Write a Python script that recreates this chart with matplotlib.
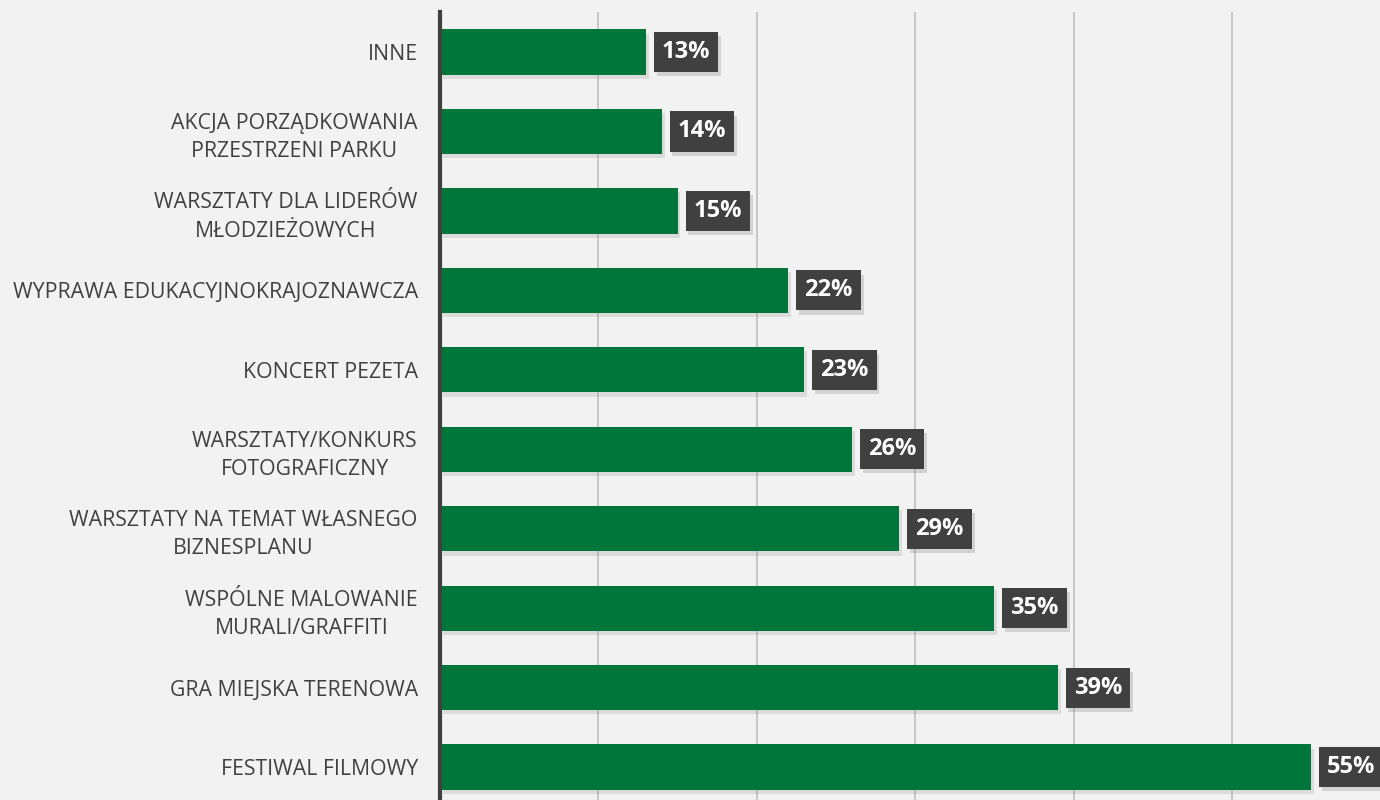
import matplotlib.pyplot as plt
import matplotlib.patheffects as pe

categories = [
    "INNE",
    "AKCJA PORZĄDKOWANIA\nPRZESTRZENI PARKU",
    "WARSZTATY DLA LIDERÓW\nMŁODZIEŻOWYCH",
    "WYPRAWA EDUKACYJNOKRAJOZNAWCZA",
    "KONCERT PEZETA",
    "WARSZTATY/KONKURS\nFOTOGRAFICZNY",
    "WARSZTATY NA TEMAT WŁASNEGO\nBIZNESPLANU",
    "WSPÓLNE MALOWANIE\nMURALI/GRAFFITI",
    "GRA MIEJSKA TERENOWA",
    "FESTIWAL FILMOWY",
]
values = [13, 14, 15, 22, 23, 26, 29, 35, 39, 55]

plt.rcParams['font.family'] = ['Open Sans', 'DejaVu Sans']

bg = '#f2f2f2'
fig = plt.figure(figsize=(13.8, 8), dpi=100, facecolor=bg)
ax = fig.add_axes([440 / 1380, 0, 1 - 440 / 1380, 1 - 12 / 800], facecolor=bg)

pos = list(range(len(categories)))
bars = ax.barh(pos, values, height=0.57, color='#00763a', zorder=3)
for b in bars:
    b.set_path_effects([pe.SimplePatchShadow(offset=(2, -3), shadow_rgbFace='#999999', alpha=0.25),
                        pe.Normal()])

for p, v in zip(pos, values):
    t = ax.annotate(f"{v}%", xy=(v, p), xytext=(11.5, 0), textcoords='offset points',
                    ha='left', va='center', color='white', fontsize=17, fontweight='bold',
                    zorder=5,
                    bbox=dict(boxstyle='square,pad=0.34', fc='#404040', ec='none', lw=0))
    t.get_bbox_patch().set_path_effects([
        pe.SimplePatchShadow(offset=(2, -3), shadow_rgbFace='#888888', alpha=0.3),
        pe.Normal()])

ax.set_xlim(0, 940 / 15.84)
ax.set_ylim(9.415, -0.504)
ax.set_xticks([10, 20, 30, 40, 50])
ax.set_xticklabels([])
ax.tick_params(axis='x', length=0)
ax.tick_params(axis='y', length=0, pad=16)
ax.set_yticks(pos)
ax.set_yticklabels(categories, fontsize=15.3, color='#404040', linespacing=1.45)
for lbl in ax.get_yticklabels():
    lbl.set_multialignment('center')
ax.grid(axis='x', color='#bfbfbf', linewidth=1.2, zorder=0)
for s in ['top', 'right', 'bottom']:
    ax.spines[s].set_visible(False)
ax.spines['left'].set_color('#404040')
ax.spines['left'].set_linewidth(3)
ax.spines['left'].set_zorder(4)

fig.savefig('out.png', dpi=100, facecolor=bg)
